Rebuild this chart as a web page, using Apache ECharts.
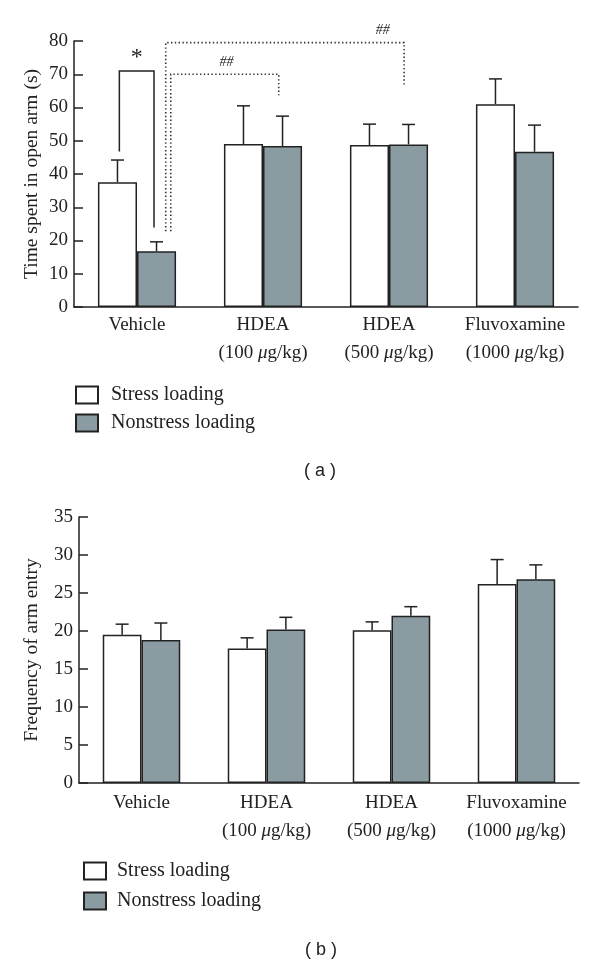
<!DOCTYPE html>
<html><head><meta charset="utf-8">
<script src="https://cdn.jsdelivr.net/npm/echarts@6/dist/echarts.min.js"></script>
<style>html,body{margin:0;padding:0;background:#fff}#c{width:600px;height:966px}</style>
</head><body><div id="c"></div>
<script>
const categories = ['Vehicle', 'HDEA\n(100 μg/kg)', 'HDEA\n(500 μg/kg)', 'Fluvoxamine\n(1000 μg/kg)'];
const seriesNames = ['Stress loading', 'Nonstress loading'];
// (a) time spent in open arm (s)
const openStress = [37.5, 49.0, 48.7, 61.0];
const openStressErr = [6.7, 11.5, 6.3, 7.6];
const openNon = [16.8, 48.4, 48.9, 46.7];
const openNonErr = [2.8, 9.0, 6.0, 8.0];
// (b) frequency of arm entry
const entryStress = [19.5, 17.7, 20.1, 26.2];
const entryStressErr = [1.4, 1.4, 1.1, 3.2];
const entryNon = [18.8, 20.2, 22.0, 26.8];
const entryNonErr = [2.25, 1.6, 1.2, 1.9];
// significance annotations on (a)
const starBracket = { cat: 0, leftY: 46.8, topY: 71, rightY: 23.9, label: '*', labelY: 75 };
const hashLinks = [
  { from: 0, to: 1, startY: 22.8, topY: 70, endY: 63.7, label: '##', labelY: 73.6 },
  { from: 0, to: 2, startY: 22.8, topY: 79.5, endY: 66.7, label: '##', labelY: 83.2 }
];

const SERIF = 'Liberation Serif';
const INK = '#222';
const GRAY = '#8a9ca1';
const BARW = 0.31;

function labelFmt(v) {
  return v.split('\n').map(function (line) {
    return line.split('μ').map(function (p, i) {
      return (i > 0 ? '{i|μ}' : '') + (p ? '{n|' + p + '}' : '');
    }).join('');
  }).join('\n');
}
function xAxis(gi, margin) {
  return {
    type: 'category', gridIndex: gi, data: categories,
    axisLine: { lineStyle: { color: INK, width: 1.5 } },
    axisTick: { inside: true, length: 9, lineStyle: { color: INK, width: 1.5 } },
    axisLabel: {
      interval: 0, margin: margin, formatter: labelFmt, lineHeight: 28,
      rich: {
        n: { fontFamily: SERIF, fontSize: 19, color: INK, lineHeight: 28 },
        i: { fontFamily: SERIF, fontSize: 19, fontStyle: 'italic', color: INK, lineHeight: 28 }
      }
    }
  };
}
function yAxis(gi, max, interval, name, gap) {
  return {
    type: 'value', gridIndex: gi, min: 0, max: max, interval: interval,
    name: name, nameLocation: 'middle', nameGap: gap, nameRotate: 90, nameMoveOverlap: false,
    nameTextStyle: { fontFamily: SERIF, fontSize: 19.5, color: INK },
    axisLine: { show: true, lineStyle: { color: INK, width: 1.5 } },
    axisTick: { show: true, inside: true, length: 9, lineStyle: { color: INK, width: 1.5 } },
    axisLabel: { fontFamily: SERIF, fontSize: 19, color: INK, margin: 6 },
    splitLine: { show: false }
  };
}
function bars(gi, name, vals, color) {
  return {
    type: 'bar', name: name, xAxisIndex: gi, yAxisIndex: gi, data: vals,
    barWidth: (BARW * 100) + '%', barGap: '0%',
    itemStyle: { color: color, borderColor: INK, borderWidth: 1.5 },
    emphasis: { disabled: true }, z: 2
  };
}
function errBars(gi, vals, errs, side) {
  return {
    type: 'custom', xAxisIndex: gi, yAxisIndex: gi, z: 3, silent: true,
    data: vals.map(function (v, i) { return [i, v, errs[i]]; }),
    renderItem: function (params, api) {
      const c = api.coord([api.value(0), api.value(1)]);
      const t = api.coord([api.value(0), api.value(1) + api.value(2)]);
      const bw = api.size([1, 0])[0] * BARW;
      const x = c[0] + side * bw / 2;
      const st = { stroke: INK, lineWidth: 1.5 };
      return { type: 'group', children: [
        { type: 'line', shape: { x1: x, y1: c[1], x2: x, y2: t[1] }, style: st },
        { type: 'line', shape: { x1: x - 6.5, y1: t[1], x2: x + 6.5, y2: t[1] }, style: st }
      ] };
    }
  };
}
const annot = {
  type: 'custom', xAxisIndex: 0, yAxisIndex: 0, z: 4, silent: true, clip: false,
  data: [[0, 0]],
  renderItem: function (params, api) {
    const bw = api.size([1, 0])[0];
    const solid = { stroke: INK, lineWidth: 1.5, fill: null };
    const dots = { stroke: '#333', lineWidth: 1.6, lineDash: [1.4, 2.4], fill: null };
    const kids = [];
    const c0 = api.coord([starBracket.cat, 0])[0];
    const xl = c0 - bw * 0.14, xr = c0 + bw * 0.135;
    kids.push({ type: 'polyline', shape: { points: [
      [xl, api.coord([0, starBracket.leftY])[1]], [xl, api.coord([0, starBracket.topY])[1]],
      [xr, api.coord([0, starBracket.topY])[1]], [xr, api.coord([0, starBracket.rightY])[1]] ] }, style: solid });
    kids.push({ type: 'text', x: (xl + xr) / 2, y: api.coord([0, starBracket.labelY])[1],
      style: { text: starBracket.label, fontFamily: SERIF, fontSize: 24, fill: INK, align: 'center', verticalAlign: 'middle' } });
    const vx = [c0 + bw * 0.268, c0 + bw * 0.228];
    const ex = [0.125, 0.12];
    const lx = [-0.29, -0.05];
    hashLinks.forEach(function (h, k) {
      const ct = api.coord([h.to, 0])[0];
      const x1 = vx[k];
      const x2 = ct + bw * ex[k];
      const yt = api.coord([0, h.topY])[1];
      kids.push({ type: 'polyline', shape: { points: [
        [x1, api.coord([0, h.startY])[1]], [x1, yt], [x2, yt], [x2, api.coord([0, h.endY])[1]] ] }, style: dots });
      kids.push({ type: 'text', x: ct + bw * lx[k], y: api.coord([0, h.labelY])[1],
        style: { text: h.label, fontFamily: SERIF, fontSize: 14, fontStyle: 'italic', fill: INK, align: 'center', verticalAlign: 'middle' } });
    });
    return { type: 'group', children: kids };
  }
};
function legend(left, top, gap, tpad) {
  return {
    orient: 'vertical', left: left, top: top, padding: 0, itemWidth: 22, itemHeight: 17, itemGap: gap,
    icon: 'rect', data: seriesNames, selectedMode: false,
    textStyle: { fontFamily: SERIF, fontSize: 20, color: INK, padding: [0, 0, 0, tpad] }
  };
}
const chart = echarts.init(document.getElementById('c'), null, { renderer: 'canvas' });
chart.setOption({
  animation: false,
  backgroundColor: '#fff',
  title: [
    { text: '( a )', left: 304, top: 462, padding: 0, textStyle: { fontFamily: 'Liberation Sans', fontSize: 18, fontWeight: 'normal', color: INK } },
    { text: '( b )', left: 305, top: 941, padding: 0, textStyle: { fontFamily: 'Liberation Sans', fontSize: 18, fontWeight: 'normal', color: INK } }
  ],
  grid: [
    { left: 74, right: 22, top: 41, height: 266 },
    { left: 79, right: 21, top: 517, height: 266 }
  ],
  legend: [legend(75, 385, 8, 8), legend(83, 861, 10, 6)],
  xAxis: [xAxis(0, 4), xAxis(1, 6)],
  yAxis: [yAxis(0, 80, 10, 'Time spent in open arm (s)', 32), yAxis(1, 35, 5, 'Frequency of arm entry', 37)],
  series: [
    bars(0, seriesNames[0], openStress, '#fff'),
    bars(0, seriesNames[1], openNon, GRAY),
    errBars(0, openStress, openStressErr, -1),
    errBars(0, openNon, openNonErr, 1),
    annot,
    bars(1, seriesNames[0], entryStress, '#fff'),
    bars(1, seriesNames[1], entryNon, GRAY),
    errBars(1, entryStress, entryStressErr, -1),
    errBars(1, entryNon, entryNonErr, 1)
  ]
});
</script></body></html>
